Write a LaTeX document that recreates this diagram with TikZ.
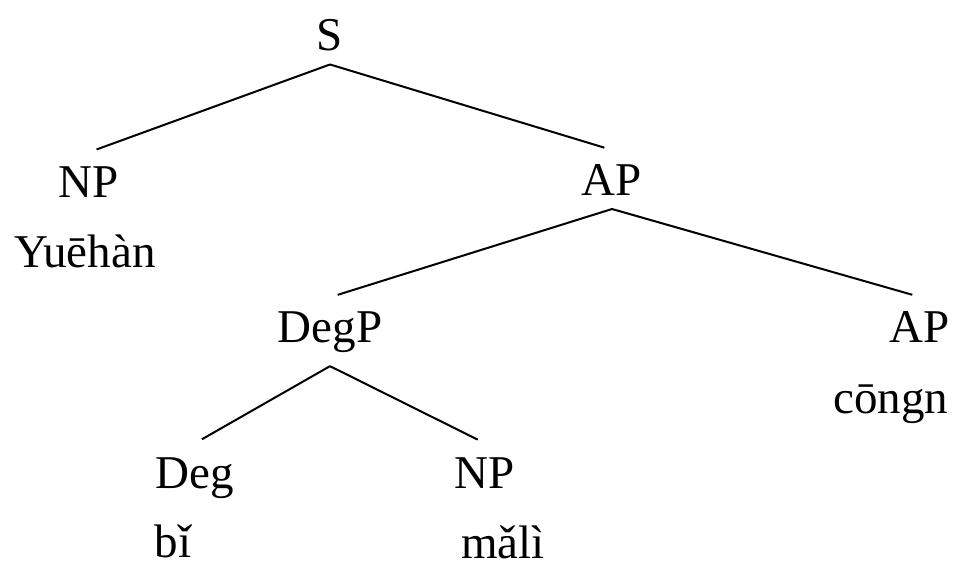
\documentclass[tikz,border=0pt]{standalone}
\usepackage{fontspec}
\setmainfont{Liberation Serif}
\usepackage{tikz}

\begin{document}
\begin{tikzpicture}[x=0.5pt,y=-0.5pt,
    cat/.style={font=\fontsize{23.5}{28}\selectfont, inner sep=0pt, outer ysep=7pt, anchor=base},
    word/.style={font=\fontsize{23.5}{28}\selectfont, inner sep=0pt, anchor=base},
    branch/.style={line width=1pt, shorten >=4pt}]
    \useasboundingbox (0,0) rectangle (956,563);

    % categories
    \node[cat] (S) at (330,50) {S};
    \node[cat] (NPa) at (89,197) {NP};
    \node[cat] (APa) at (612,195) {AP};
    \node[cat] (DegP) at (330,342) {DegP};
    \node[cat] (APb) at (920,342) {AP};
    \node[cat] (Deg) at (195,488) {Deg};
    \node[cat] (NPb) at (485,488) {NP};

    % words
    \node[word] (yuehan) at (85,267) {Yuēhàn};
    \node[word] (congn) at (891,413) {cōngn};
    \node[word] (bi) at (173,557) {bǐ};
    \node[word] (mali) at (503,558) {mǎlì};

    % branches
    \draw[branch] (S.south) -- (NPa.north);
    \draw[branch] (S.south) -- (APa.north);
    \draw[branch] (APa.south) -- (DegP.north);
    \draw[branch] (APa.south) -- (APb.north);
    \draw[branch] (DegP.south) -- (Deg.north);
    \draw[branch] (DegP.south) -- (NPb.north);
\end{tikzpicture}
\end{document}
